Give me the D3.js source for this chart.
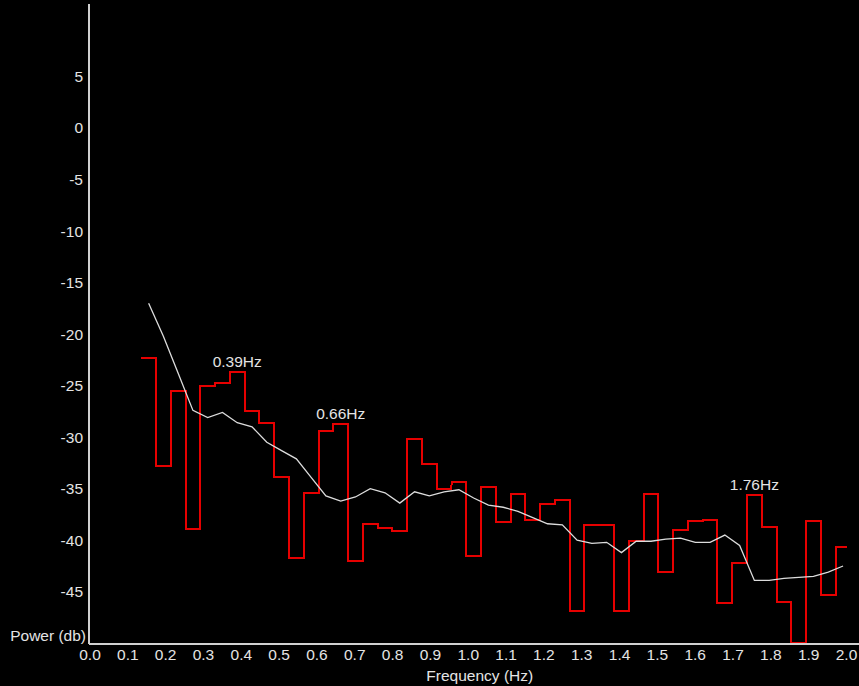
<!DOCTYPE html>
<html>
<head>
<meta charset="utf-8">
<script src="https://cdn.jsdelivr.net/npm/d3@7"></script>
<style>
  html, body { margin: 0; padding: 0; background: #000; }
  svg { display: block; }
  text { font-family: "Liberation Sans", Arial, sans-serif; fill: #e4e4e4; }
</style>
</head>
<body>
<svg id="chart" width="859" height="686"></svg>
<script>
// Spectrum bins (Hz), each bin is binWidth wide and centred on its frequency
const binWidth = 0.0390625;
const freqs = [0.1563, 0.1953, 0.2344, 0.2734, 0.3125, 0.3516, 0.3906, 0.4297, 0.4688, 0.5078,
               0.5469, 0.5859, 0.6250, 0.6641, 0.7031, 0.7422, 0.7813, 0.8203, 0.8594, 0.8984,
               0.9375, 0.9766, 1.0156, 1.0547, 1.0938, 1.1328, 1.1719, 1.2109, 1.2500, 1.2891,
               1.3281, 1.3672, 1.4063, 1.4453, 1.4844, 1.5234, 1.5625, 1.6016, 1.6406, 1.6797,
               1.7188, 1.7578, 1.7969, 1.8359, 1.8750, 1.9141, 1.9531, 1.9922];

// Raw power per bin (dB)
const power = [-22.2, -32.7, -25.4, -38.8, -24.9, -24.6, -23.6, -27.4, -28.5, -33.8,
               -41.6, -35.3, -29.3, -28.6, -41.9, -38.3, -38.7, -39.0, -30.1, -32.5,
               -34.9, -34.3, -41.4, -34.7, -38.1, -35.4, -37.9, -36.4, -36.0, -46.8,
               -38.4, -38.4, -46.8, -40.0, -35.4, -43.0, -38.9, -38.0, -37.9, -46.0,
               -42.1, -35.5, -38.6, -45.9, -49.9, -38.0, -45.2, -40.6];

// Smoothed power (dB)
const smooth = [-17.0, -20.2, -23.8, -27.4, -28.1, -27.6, -28.6, -29.0, -30.5, -31.3,
                -32.1, -33.9, -35.7, -36.2, -35.8, -35.0, -35.4, -36.4, -35.3, -35.7,
                -35.3, -35.1, -35.9, -36.6, -36.8, -37.2, -37.8, -38.4, -38.5, -40.0,
                -40.3, -40.2, -41.2, -40.1, -40.1, -39.9, -39.8, -40.2, -40.2, -39.5,
                -40.5, -43.9, -43.9, -43.7, -43.6, -43.5, -43.1, -42.5];

// Labelled peaks
const peakLabels = ["0.39Hz", "0.66Hz", "1.76Hz"];
const peakBins = [0.3906, 0.6641, 1.7578];

const xTicks = [0.0, 0.1, 0.2, 0.3, 0.4, 0.5, 0.6, 0.7, 0.8, 0.9, 1.0,
                1.1, 1.2, 1.3, 1.4, 1.5, 1.6, 1.7, 1.8, 1.9, 2.0];
const yTicks = [5, 0, -5, -10, -15, -20, -25, -30, -35, -40, -45];

const svg = d3.select("#chart");
const W = 859, H = 686;
svg.append("rect").attr("width", W).attr("height", H).attr("fill", "#000");

const x = d3.scaleLinear().domain([0, 2]).range([89.5, 846]);
const y = d3.scaleLinear().domain([-50, 12]).range([643.3, 4.3]);
const axisColor = "#d0d0d0";
const fontSize = 15.5;

// Plot area clip so the step line stops at 2.0 Hz
svg.append("clipPath").attr("id", "plotClip")
  .append("rect").attr("x", x(0)).attr("y", 0).attr("width", x(2) - x(0) + 1).attr("height", y(-50) + 1);

// Raw spectrum as a step line: each bin drawn across its full width
const stepPts = [];
freqs.forEach((f, i) => {
  stepPts.push([f - binWidth / 2, power[i]]);
  stepPts.push([f + binWidth / 2, power[i]]);
});
const stepLine = d3.line().x(d => Math.round(x(d[0]))).y(d => Math.round(y(d[1])) + 0.5);
svg.append("path")
  .attr("clip-path", "url(#plotClip)")
  .attr("d", stepLine(stepPts))
  .attr("fill", "none")
  .attr("stroke", "#e60000")
  .attr("stroke-width", 2)
  .attr("shape-rendering", "crispEdges");

// Smoothed curve through bin centres
const smoothLine = d3.line().x((d, i) => x(freqs[i])).y(d => y(d));
svg.append("path")
  .attr("d", smoothLine(smooth))
  .attr("fill", "none")
  .attr("stroke", "#dcdcdc")
  .attr("stroke-width", 1.3);

// Peak labels sit just above the bin they name
peakLabels.forEach((lab, j) => {
  const i = freqs.indexOf(peakBins[j]);
  svg.append("text")
    .attr("x", x(freqs[i]))
    .attr("y", y(power[i]) - 4)
    .attr("text-anchor", "middle")
    .attr("font-size", fontSize)
    .text(lab);
});

// X axis
const xAxis = d3.axisBottom(x).tickValues(xTicks).tickFormat(d => d.toFixed(1)).tickSize(0).tickPadding(6);
const gx = svg.append("g").attr("transform", `translate(0,${y(-50)})`).call(xAxis);
gx.select(".domain").remove();
gx.selectAll("text").attr("font-size", fontSize).attr("fill", "#e4e4e4")
  .attr("font-family", "Liberation Sans, Arial, sans-serif");

// Y axis (plain hyphen for negative values)
const yAxis = d3.axisLeft(y).tickValues(yTicks).tickFormat(d => String(d)).tickSize(0).tickPadding(6);
const gy = svg.append("g").attr("transform", `translate(89,0)`).call(yAxis);
gy.select(".domain").remove();
gy.selectAll("text").attr("font-size", fontSize).attr("fill", "#e4e4e4")
  .attr("font-family", "Liberation Sans, Arial, sans-serif");

// Axis lines
svg.append("line").attr("x1", 89).attr("x2", 89).attr("y1", y(12)).attr("y2", y(-50) + 0.5)
  .attr("stroke", axisColor).attr("stroke-width", 1.5).attr("shape-rendering", "crispEdges");
svg.append("line").attr("x1", 89).attr("x2", W).attr("y1", y(-50) + 0.5).attr("y2", y(-50) + 0.5)
  .attr("stroke", axisColor).attr("stroke-width", 1.5).attr("shape-rendering", "crispEdges");

// Axis titles
svg.append("text").attr("x", 86).attr("y", 641).attr("text-anchor", "end")
  .attr("font-size", fontSize).text("Power (db)");
svg.append("text").attr("x", (x(0) + x(2)) / 2 + 12).attr("y", 681).attr("text-anchor", "middle")
  .attr("font-size", fontSize).text("Frequency (Hz)");
</script>
</body>
</html>
